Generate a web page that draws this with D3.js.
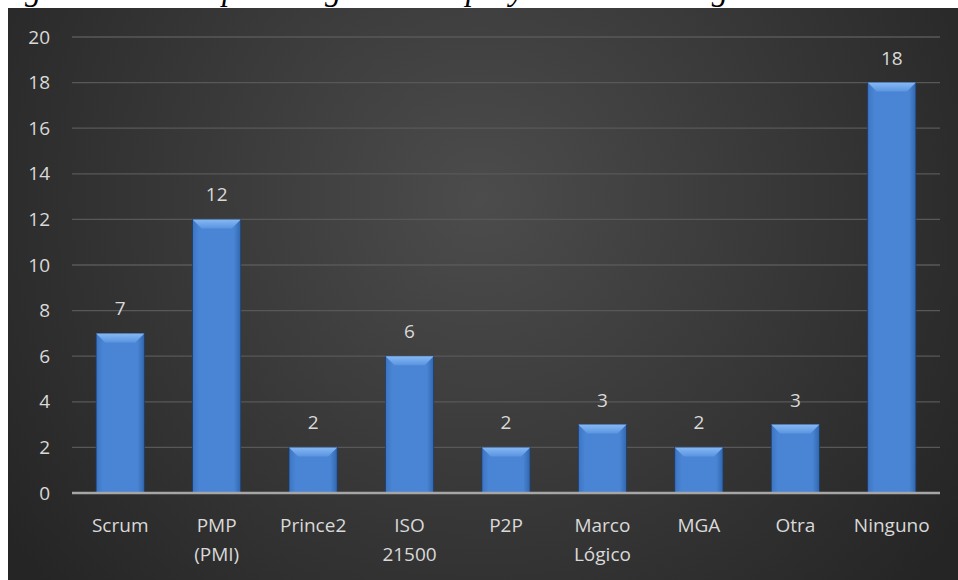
<!DOCTYPE html>
<html>
<head>
<meta charset="utf-8">
<script src="https://cdn.jsdelivr.net/npm/d3@7"></script>
<style>
  body { margin: 0; background: #fff; }
  svg { display: block; }
</style>
</head>
<body>
<svg class="chart"></svg>
<script>
const categories = ["Scrum", "PMP|(PMI)", "Prince2", "ISO|21500", "P2P", "Marco|Lógico", "MGA", "Otra", "Ninguno"];
const values = [7, 12, 2, 6, 2, 3, 2, 3, 18];
const yTicks = [0, 2, 4, 6, 8, 10, 12, 14, 16, 18, 20];
const titleText = "Metodologías utilizadas para la gestión de proyectos en el cargo de los encuestados";

const W = 958, H = 580;
const margin = { top: 37, right: 18, bottom: 87, left: 72 },
      width = W - margin.left - margin.right,
      height = H - margin.top - margin.bottom;
const font = "'Open Sans', Lato, sans-serif";

const root = d3.select(".chart").attr("width", W).attr("height", H);

const defs = root.append("defs");
const bg = defs.append("radialGradient")
    .attr("id", "bg")
    .attr("gradientUnits", "userSpaceOnUse")
    .attr("cx", 480).attr("cy", 200).attr("r", 580);
bg.append("stop").attr("offset", "0%").attr("stop-color", "#4c4c4c");
bg.append("stop").attr("offset", "100%").attr("stop-color", "#252525");

const barGrad = defs.append("linearGradient").attr("id", "barGrad")
    .attr("x1", 0).attr("x2", 1).attr("y1", 0).attr("y2", 0);
barGrad.append("stop").attr("offset", "0%").attr("stop-color", "#3c74c2");
barGrad.append("stop").attr("offset", "14%").attr("stop-color", "#4985d4");
barGrad.append("stop").attr("offset", "86%").attr("stop-color", "#4985d4");
barGrad.append("stop").attr("offset", "100%").attr("stop-color", "#3166ad");

const bevGrad = defs.append("linearGradient").attr("id", "bevGrad")
    .attr("x1", 0).attr("x2", 0).attr("y1", 0).attr("y2", 1);
bevGrad.append("stop").attr("offset", "0%").attr("stop-color", "#86b8f4");
bevGrad.append("stop").attr("offset", "100%").attr("stop-color", "#5b95e0");

// caption of the page above, clipped by the chart as in the source
const title = root.append("text")
    .attr("y", 0)
    .attr("font-family", "'Liberation Serif', serif")
    .attr("font-style", "italic")
    .attr("font-size", 28)
    .attr("fill", "#000")
    .text(titleText);
{
    const node = title.node();
    const ip = titleText.indexOf("para");
    const ig = titleText.indexOf("cargo") + 3;
    const p0 = node.getStartPositionOfChar(ip).x;
    const g0 = node.getStartPositionOfChar(ig).x;
    const k = 490 / Math.max(1, g0 - p0);
    title.attr("font-size", 28 * k);
    const p1 = node.getStartPositionOfChar(ip).x;
    title.attr("x", 222 - p1);
}

root.append("rect")
    .attr("x", 8).attr("y", 8)
    .attr("width", W - 8).attr("height", H - 8)
    .attr("fill", "url(#bg)");

const svg = root.append("g")
    .attr("transform", `translate(${margin.left}, ${margin.top})`);

const x = d3.scaleBand()
    .domain(categories)
    .range([0, width])
    .paddingInner(0.5)
    .paddingOuter(0.25);

const y = d3.scaleLinear()
    .domain([0, 20])
    .range([height, 0]);

// gridlines
svg.append("g")
    .selectAll("line")
    .data(yTicks.filter(d => d > 0))
    .enter().append("line")
    .attr("x1", 0).attr("x2", width)
    .attr("y1", d => y(d)).attr("y2", d => y(d))
    .attr("stroke", "#585858")
    .attr("stroke-width", 1.3);

// y axis labels
const yAxis = svg.append("g")
    .call(d3.axisLeft(y).tickValues(yTicks).tickSize(0).tickPadding(22));
yAxis.select(".domain").remove();
yAxis.selectAll("text")
    .attr("font-family", font)
    .attr("font-size", 19)
    .attr("fill", "#d9d9d9");

// bars
const bars = svg.selectAll(".bar")
    .data(values)
    .enter().append("g")
    .attr("class", "bar");

bars.append("rect")
    .attr("x", (d, i) => x(categories[i]))
    .attr("y", d => y(d))
    .attr("width", x.bandwidth())
    .attr("height", d => height - y(d))
    .attr("fill", "url(#barGrad)")
    .attr("stroke", "#1d3c6b")
    .attr("stroke-width", 0.8);

// bevel on the top of each bar
const bev = 9;
bars.append("path")
    .attr("d", (d, i) => {
        const x0 = x(categories[i]), x1 = x0 + x.bandwidth(), t = y(d);
        return `M${x0},${t} L${x1},${t} L${x1 - bev},${t + bev} L${x0 + bev},${t + bev} Z`;
    })
    .attr("fill", "url(#bevGrad)");

// data labels
svg.selectAll(".label")
    .data(values)
    .enter().append("text")
    .attr("class", "label")
    .attr("x", (d, i) => x(categories[i]) + x.bandwidth() / 2)
    .attr("y", d => y(d) - 18)
    .attr("text-anchor", "middle")
    .attr("font-family", font)
    .attr("font-size", 19)
    .attr("fill", "#d9d9d9")
    .text(d => d);

// baseline
svg.append("line")
    .attr("x1", 0).attr("x2", width)
    .attr("y1", y(0)).attr("y2", y(0))
    .attr("stroke", "#a6a6a6")
    .attr("stroke-width", 2.5);

// category labels
const xl = svg.append("g").attr("transform", `translate(0, ${height})`);
xl.selectAll("text")
    .data(categories)
    .enter().append("text")
    .attr("x", d => x(d) + x.bandwidth() / 2)
    .attr("y", 39)
    .attr("text-anchor", "middle")
    .attr("font-family", font)
    .attr("font-size", 19)
    .attr("fill", "#d9d9d9")
    .each(function (d) {
        d.split("|").forEach((part, k) => {
            d3.select(this).append("tspan")
                .attr("x", x(d) + x.bandwidth() / 2)
                .attr("dy", k === 0 ? 0 : 29)
                .text(part);
        });
    });
</script>
</body>
</html>
